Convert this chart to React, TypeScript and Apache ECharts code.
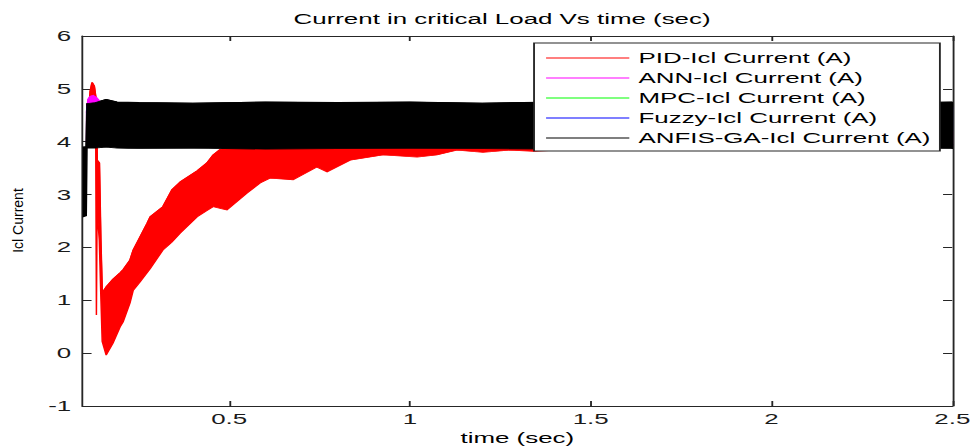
import React, { useEffect, useRef } from 'react';
import * as echarts from 'echarts';

// The reference text is drawn wide; the chart is laid out on a narrower canvas and stretched horizontally.
const W0 = 526;
const H0 = 447;
const SX = 973 / W0;
const FONT = 'Liberation Sans';

const seriesNames = [
  'PID-Icl Current (A)',
  'ANN-Icl Current (A)',
  'MPC-Icl Current (A)',
  'Fuzzy-Icl Current (A)',
  'ANFIS-GA-Icl Current (A)',
];
const seriesColors = ['#ff0000', '#ff00ff', '#00ff00', '#0000ff', '#000000'];
const xTicks = [0.5, 1, 1.5, 2, 2.5];

// Envelopes (upper / lower edges) of each oscillating current band
const pidTime = [0.110, 0.116, 0.121, 0.127, 0.131, 0.133, 0.135, 0.141, 0.145, 0.149, 0.160, 0.179, 0.199, 0.207, 0.226, 0.235, 0.254, 0.273, 0.282, 0.317, 0.342, 0.365, 0.412, 0.439, 0.456, 0.475, 0.494, 0.550, 0.586, 0.613, 0.677, 0.743, 0.771, 0.835, 0.926, 1.020, 1.075, 1.130, 1.202, 1.277, 1.341, 1.526, 2.000, 2.500];
const pidUpper = [4.40, 4.95, 5.12, 5.05, 4.85, 4.60, 3.65, 3.60, 2.14, 1.14, 1.25, 1.40, 1.52, 1.58, 1.76, 1.95, 2.20, 2.45, 2.58, 2.77, 3.09, 3.24, 3.45, 3.60, 3.75, 3.85, 3.90, 4.00, 4.05, 4.05, 4.10, 4.10, 4.10, 4.15, 4.15, 4.20, 4.20, 4.20, 4.20, 4.20, 4.20, 4.20, 4.20, 4.20];
const pidLower = [4.20, 4.40, 4.50, 4.45, 4.30, 0.72, 2.70, 2.14, 1.14, 0.22, -0.04, 0.19, 0.50, 0.59, 0.95, 1.19, 1.35, 1.52, 1.60, 1.95, 2.10, 2.27, 2.58, 2.70, 2.77, 2.74, 2.71, 3.03, 3.22, 3.31, 3.28, 3.52, 3.43, 3.65, 3.75, 3.71, 3.75, 3.84, 3.80, 3.84, 3.82, 3.88, 3.90, 3.90];

const annTime = [0.106, 0.110, 0.116, 0.124, 0.132, 0.140, 0.149, 0.200, 0.500, 1.000, 1.500, 2.000, 2.500];
const annUpper = [4.55, 4.80, 4.86, 4.88, 4.84, 4.78, 4.70, 4.65, 4.65, 4.65, 4.65, 4.65, 4.65];
const annLower = [4.00, 3.95, 3.95, 3.95, 3.95, 3.95, 3.95, 3.95, 3.95, 3.95, 3.95, 3.95, 3.95];

const mpcTime = [0.107, 0.500, 1.000, 1.500, 2.000, 2.500];
const mpcUpper = [4.62, 4.62, 4.62, 4.62, 4.62, 4.62];
const mpcLower = [3.95, 3.95, 3.95, 3.95, 3.95, 3.95];

const fuzzyTime = [0.107, 0.500, 1.000, 1.500, 2.000, 2.500];
const fuzzyUpper = [4.66, 4.66, 4.66, 4.66, 4.66, 4.66];
const fuzzyLower = [3.92, 3.92, 3.92, 3.92, 3.92, 3.92];

const anfisTime = [0.097, 0.105, 0.107, 0.130, 0.160, 0.190, 0.250, 0.400, 0.600, 0.800, 1.000, 1.200, 1.400, 1.600, 1.800, 2.000, 2.200, 2.400, 2.500];
const anfisUpper = [3.90, 3.90, 4.72, 4.74, 4.80, 4.75, 4.74, 4.73, 4.75, 4.74, 4.75, 4.73, 4.75, 4.74, 4.75, 4.73, 4.75, 4.74, 4.75];
const anfisLower = [2.58, 2.60, 3.88, 3.88, 3.90, 3.88, 3.87, 3.88, 3.86, 3.87, 3.88, 3.87, 3.86, 3.88, 3.87, 3.86, 3.87, 3.88, 3.87];

const bands = [
  { t: pidTime, up: pidUpper, lo: pidLower },
  { t: annTime, up: annUpper, lo: annLower },
  { t: mpcTime, up: mpcUpper, lo: mpcLower },
  { t: fuzzyTime, up: fuzzyUpper, lo: fuzzyLower },
  { t: anfisTime, up: anfisUpper, lo: anfisLower },
];

function buildSeries() {
  const out: any[] = [];
  bands.forEach((b, k) => {
    const name = seriesNames[k];
    const color = seriesColors[k];
    // Upper-edge line (also gives the legend its line icon); sits under every band fill
    out.push({
      type: 'line',
      name,
      xAxisIndex: 0,
      yAxisIndex: 0,
      data: b.t.map((x, i) => [x, b.up[i]]),
      symbol: 'none',
      lineStyle: { color, width: 1 },
      itemStyle: { color },
      silent: true,
      z: 2,
    });
    // Filled band between the lower and upper envelope
    out.push({
      type: 'custom',
      name,
      xAxisIndex: 0,
      yAxisIndex: 0,
      coordinateSystem: 'cartesian2d',
      clip: true,
      silent: true,
      data: b.t.map((x, i) => [x, b.up[i], b.lo[i]]),
      encode: { x: 0, y: [1, 2] },
      itemStyle: { color },
      z: 3,
      renderItem: (params: any, api: any) => {
        if (params.dataIndex !== 0) return null;
        const pts: number[][] = [];
        for (let i = 0; i < b.t.length; i++) pts.push(api.coord([b.t[i], b.up[i]]));
        for (let i = b.t.length - 1; i >= 0; i--) pts.push(api.coord([b.t[i], b.lo[i]]));
        return {
          type: 'polygon',
          shape: { points: pts },
          style: { fill: color, stroke: color, lineWidth: 0.8 },
        };
      },
    });
  });
  return out;
}

const axisColor = '#262626';
const labelStyle = { fontSize: 14, color: '#1a1a1a', fontFamily: FONT };

export default function App() {
  const ref = useRef<HTMLDivElement>(null);
  useEffect(() => {
    if (!ref.current) return;
    const chart = echarts.init(ref.current, null, { renderer: 'svg' });
    const xMin = 0.094;
    const xMax = 2.5;
    const option: any = {
      animation: false,
      backgroundColor: '#ffffff',
      title: {
        text: 'Current in critical Load Vs time (sec)',
        left: 158.7,
        top: 12,
        padding: 0,
        textStyle: { fontSize: 14, fontWeight: 'normal', color: '#000', fontFamily: FONT },
      },
      legend: {
        orient: 'vertical',
        left: 288.7,
        top: 43,
        padding: [8, 5, 6, 6],
        itemGap: 6,
        itemWidth: 45,
        itemHeight: 14,
        borderColor: axisColor,
        borderWidth: 1,
        backgroundColor: '#fff',
        data: seriesNames,
        itemStyle: { opacity: 0 },
        lineStyle: { width: 1 },
        textStyle: { fontSize: 14, color: '#000', fontFamily: FONT },
        selectedMode: false,
        z: 10,
      },
      grid: {
        left: 82.3 / SX,
        right: W0 - 952.3 / SX,
        top: 36,
        bottom: 41,
        containLabel: false,
        outerBoundsMode: 'none',
      },
      xAxis: [
        {
          type: 'value',
          position: 'bottom',
          min: xMin,
          max: xMax,
          axisLine: { show: true, onZero: false, lineStyle: { color: axisColor, width: 1 } },
          axisTick: { show: true, inside: true, length: 5, customValues: xTicks, lineStyle: { color: axisColor } },
          axisLabel: { show: true, customValues: xTicks, margin: 6, formatter: (v: number) => String(v), ...labelStyle },
          splitLine: { show: false },
          name: 'time (sec)',
          nameLocation: 'middle',
          nameGap: 24,
          nameTextStyle: { fontSize: 14, color: '#000', fontFamily: FONT },
        },
        {
          type: 'value',
          position: 'top',
          min: xMin,
          max: xMax,
          axisLine: { show: true, onZero: false, lineStyle: { color: axisColor, width: 1 } },
          axisTick: { show: true, inside: true, length: 5, customValues: xTicks, lineStyle: { color: axisColor } },
          axisLabel: { show: false },
          splitLine: { show: false },
        },
      ],
      yAxis: [
        {
          type: 'value',
          position: 'left',
          min: -1,
          max: 6,
          interval: 1,
          axisLine: { show: true, onZero: false, lineStyle: { color: axisColor, width: 1 } },
          axisTick: { show: true, inside: true, length: 5, lineStyle: { color: axisColor } },
          axisLabel: { show: true, margin: 6, ...labelStyle },
          splitLine: { show: false },
        },
        {
          type: 'value',
          position: 'right',
          min: -1,
          max: 6,
          interval: 1,
          axisLine: { show: true, onZero: false, lineStyle: { color: axisColor, width: 1 } },
          axisTick: { show: true, inside: true, length: 5, lineStyle: { color: axisColor } },
          axisLabel: { show: false },
          splitLine: { show: false },
        },
      ],
      graphic: [
        {
          type: 'text',
          x: 18 / SX,
          y: 220.5,
          rotation: Math.PI / 2,
          scaleY: 1 / SX,
          style: {
            text: 'Icl Current',
            fill: '#000',
            fontSize: 14,
            fontFamily: FONT,
            align: 'center',
            verticalAlign: 'middle',
          },
        },
      ],
      series: buildSeries(),
    };
    chart.setOption(option);
    return () => chart.dispose();
  }, []);

  return (
    <div
      style={{
        position: 'fixed',
        left: 0,
        top: 0,
        width: 973,
        height: 447,
        overflow: 'hidden',
        background: '#fff',
      }}
    >
      <div
        ref={ref}
        style={{
          width: W0,
          height: H0,
          transform: `scale(${SX}, 1)`,
          transformOrigin: '0 0',
        }}
      />
    </div>
  );
}
